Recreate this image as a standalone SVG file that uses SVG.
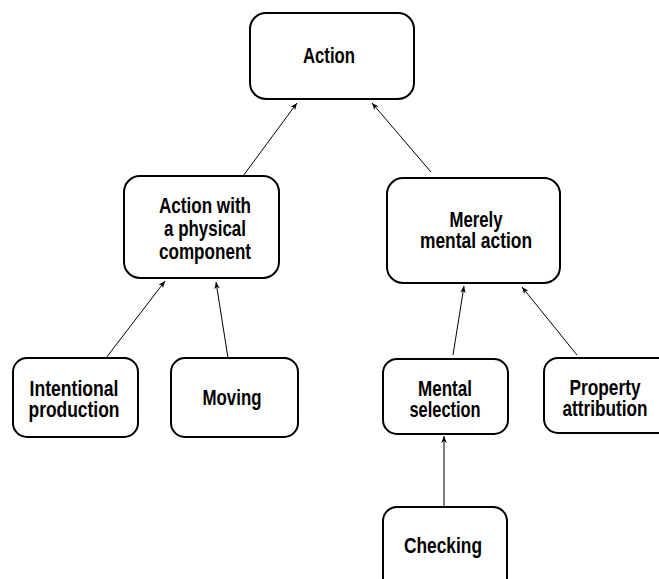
<svg xmlns="http://www.w3.org/2000/svg" width="659" height="579" viewBox="0 0 659 579">
<style>
.box{fill:#fff;stroke:#000;stroke-width:2}
.t{font-family:"Liberation Sans",Arial,sans-serif;font-weight:bold;font-size:22px;fill:#000;text-anchor:middle}
.c{stroke:#000;stroke-width:1;fill:none;marker-end:url(#arr)}
</style>
<defs>
<marker id="arr" viewBox="0 0 10 10" refX="10" refY="5" markerWidth="7" markerHeight="7" markerUnits="userSpaceOnUse" orient="auto">
<path d="M0,1 L10,5 L0,9 L3,5 Z" fill="#000"/>
</marker>
</defs>
<rect width="659" height="579" fill="#fff"/>
<g id="connectors">
<line class="c" x1="243" y1="176" x2="297" y2="103"/>
<line class="c" x1="431" y1="172" x2="372" y2="103"/>
<line class="c" x1="106" y1="358" x2="165" y2="281"/>
<line class="c" x1="228" y1="358" x2="216" y2="282"/>
<line class="c" x1="453" y1="355" x2="464" y2="286"/>
<line class="c" x1="577" y1="355" x2="522" y2="287"/>
<line class="c" x1="444" y1="507" x2="444" y2="436"/>
</g>
<g id="action">
<rect class="box" x="250" y="13" width="164" height="86" rx="16"/>
<text class="t" x="329" y="63" textLength="52" lengthAdjust="spacingAndGlyphs">Action</text>
</g>
<g id="physical">
<rect class="box" x="124" y="176" width="155" height="102" rx="16"/>
<text class="t" x="205" y="213" textLength="92" lengthAdjust="spacingAndGlyphs">Action with</text>
<text class="t" x="205" y="236" textLength="82" lengthAdjust="spacingAndGlyphs">a physical</text>
<text class="t" x="205" y="259" textLength="92" lengthAdjust="spacingAndGlyphs">component</text>
</g>
<g id="mental">
<rect class="box" x="387" y="178" width="173" height="105" rx="16"/>
<text class="t" x="476" y="227" textLength="53" lengthAdjust="spacingAndGlyphs">Merely</text>
<text class="t" x="476" y="248" textLength="112" lengthAdjust="spacingAndGlyphs">mental action</text>
</g>
<g id="intentional">
<rect class="box" x="13" y="358" width="125" height="79" rx="14"/>
<text class="t" x="74" y="396" textLength="89" lengthAdjust="spacingAndGlyphs">Intentional</text>
<text class="t" x="74" y="417" textLength="91" lengthAdjust="spacingAndGlyphs">production</text>
</g>
<g id="moving">
<rect class="box" x="171" y="358" width="127" height="79" rx="14"/>
<text class="t" x="232" y="405" textLength="59" lengthAdjust="spacingAndGlyphs">Moving</text>
</g>
<g id="selection">
<rect class="box" x="383" y="359" width="125" height="75" rx="14"/>
<text class="t" x="445" y="396" textLength="54" lengthAdjust="spacingAndGlyphs">Mental</text>
<text class="t" x="445" y="417" textLength="71" lengthAdjust="spacingAndGlyphs">selection</text>
</g>
<g id="property">
<rect class="box" x="544" y="358" width="128" height="75" rx="14"/>
<text class="t" x="605" y="395" textLength="71" lengthAdjust="spacingAndGlyphs">Property</text>
<text class="t" x="605" y="416" textLength="85" lengthAdjust="spacingAndGlyphs">attribution</text>
</g>
<g id="checking">
<rect class="box" x="383" y="507" width="124" height="90" rx="14"/>
<text class="t" x="443" y="553" textLength="78" lengthAdjust="spacingAndGlyphs">Checking</text>
</g>
</svg>
